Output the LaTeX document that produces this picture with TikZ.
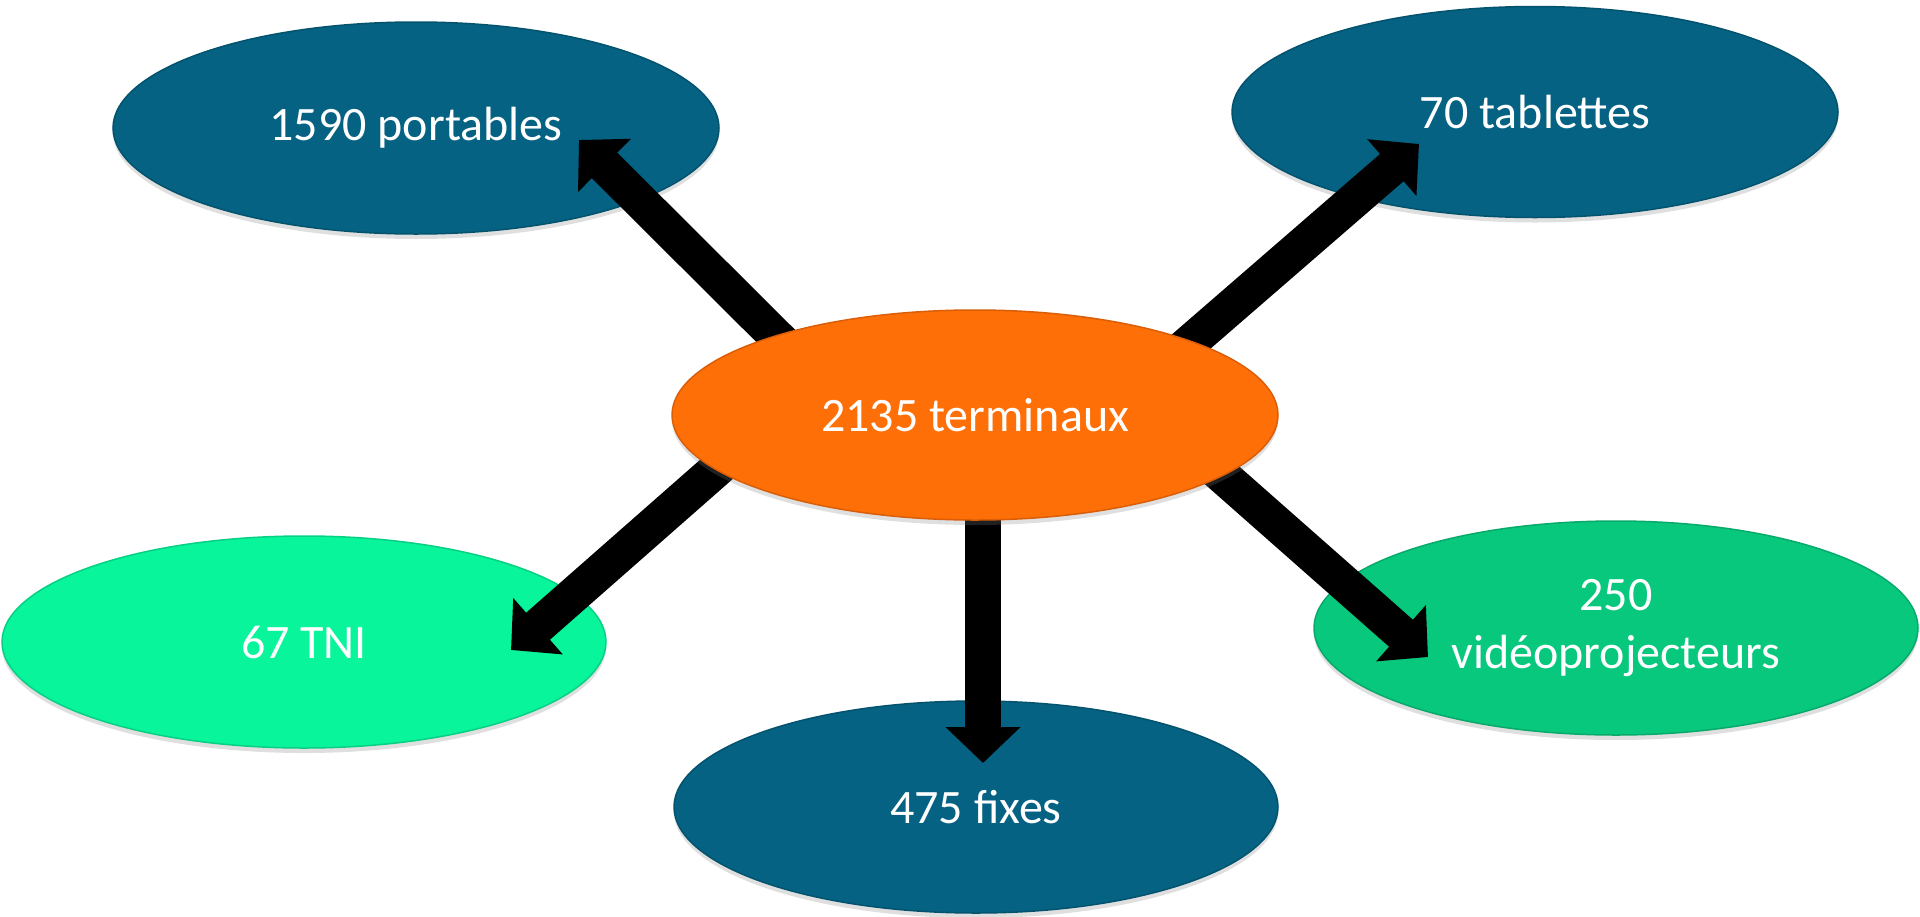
\documentclass[tikz,border=0pt]{standalone}
\usepackage{fontspec}
\setmainfont{Carlito}
\usetikzlibrary{shapes.geometric,arrows.meta,shadows}
\definecolor{cBlue}{HTML}{056282}
\definecolor{cOrange}{HTML}{FF6F08}
\definecolor{cMint}{HTML}{08F59C}
\definecolor{cGreen}{HTML}{08C87D}
\pgfdeclarelayer{bg}
\pgfsetlayers{bg,main}
\tikzset{
  ell/.style={ellipse, inner sep=0pt, minimum width=606pt, minimum height=212pt,
    fill=#1, draw=#1!85!black, line width=1.5pt, text=white,
    font=\fontsize{48}{58}\selectfont, align=center,
    drop shadow={opacity=0.25, shadow xshift=0pt, shadow yshift=-5pt}},
  bigarrow/.style={draw=black, line width=36pt,
    -{Triangle[width=73pt,length=36pt]}}
}
\begin{document}
\begin{tikzpicture}[x=1pt,y=-1pt]
\useasboundingbox (0,0) rectangle (1920,916);
% centre node (on top)
\node[ell=cOrange, minimum height=210pt] (term) at (975,415) {2135 terminaux};
\begin{pgfonlayer}{bg}
\node[ell=cBlue] (port) at (416,128) {1590 portables};
\node[ell=cBlue, minimum height=211pt] (tab) at (1535,112) {70 tablettes};
\node[ell=cMint, minimum width=604pt] (tni) at (304,642) {67 TNI};
\node[ell=cBlue, minimum width=604pt] (fix) at (976,807) {475 fixes};
\node[ell=cGreen, minimum width=604pt, minimum height=214pt] (vid) at (1616,628) {250\\vidéoprojecteurs};
% arrow end points
\coordinate (s1) at (830,390);
\coordinate (t1) at (579,140);
\coordinate (s2) at (1133,392);
\coordinate (t2) at (1419,144);
\coordinate (s3) at (776,417);
\coordinate (t3) at (511,650);
\coordinate (s4) at (1157,418);
\coordinate (t4) at (1428,657);
\coordinate (s5) at (983,450);
\coordinate (t5) at (983,763);
\draw[bigarrow] (s1) -- (t1);
\draw[bigarrow] (s2) -- (t2);
\draw[bigarrow] (s3) -- (t3);
\draw[bigarrow] (s4) -- (t4);
\draw[bigarrow] (s5) -- (t5);
\end{pgfonlayer}
\end{tikzpicture}
\end{document}
